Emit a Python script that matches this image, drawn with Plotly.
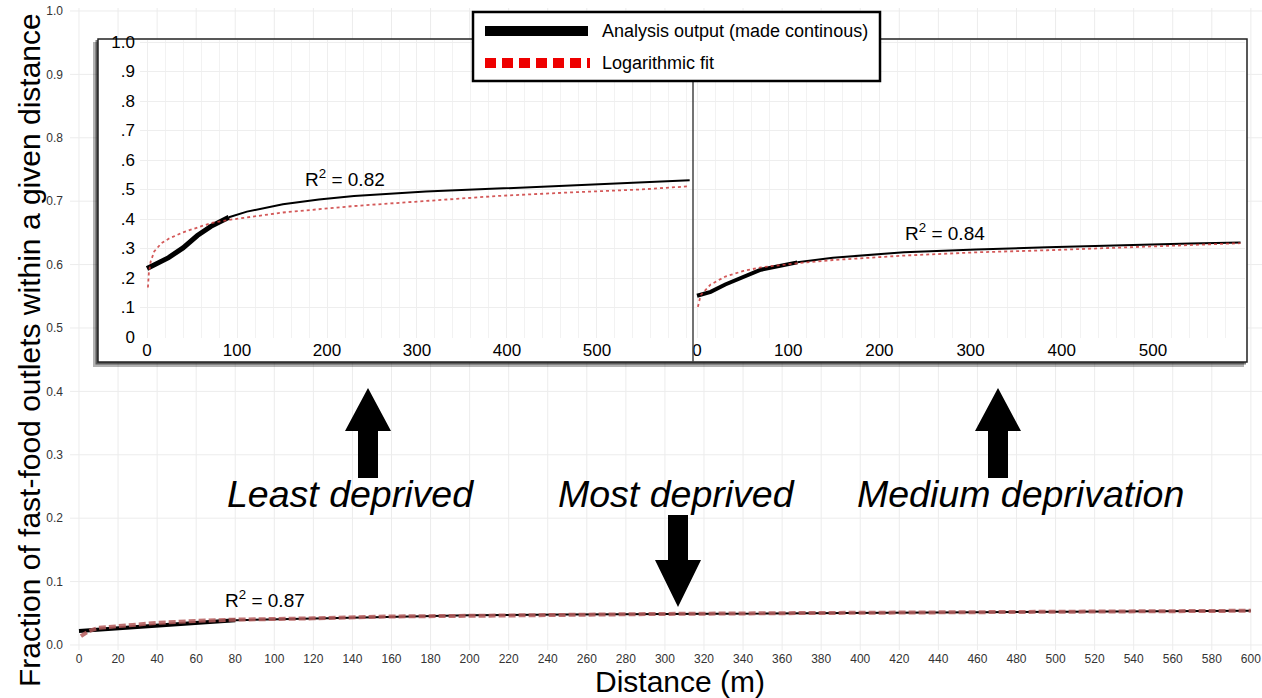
import plotly.graph_objects as go

# ---------------- data ----------------
# Least deprived (inset, left panel)
ld_black_x = [0, 8, 24, 40, 56, 71, 91, 111, 151, 191, 230, 310, 389, 469, 548, 603]
ld_black_y = [0.232, 0.243, 0.269, 0.302, 0.344, 0.375, 0.406, 0.425, 0.450, 0.466, 0.478, 0.493, 0.503, 0.513, 0.525, 0.531]
ld_fit_x = [1, 2, 4, 8, 16, 24, 40, 60, 71, 91, 111, 151, 230, 310, 389, 469, 548, 603]
ld_fit_y = [0.168, 0.215, 0.255, 0.290, 0.318, 0.333, 0.355, 0.375, 0.386, 0.397, 0.406, 0.422, 0.444, 0.462, 0.478, 0.490, 0.500, 0.511]

# Medium deprivation (inset, right panel)
md_black_x = [0, 15, 31, 51, 70, 110, 149, 227, 306, 384, 463, 541, 596]
md_black_y = [0.140, 0.153, 0.178, 0.205, 0.228, 0.253, 0.269, 0.287, 0.297, 0.304, 0.311, 0.317, 0.320]
md_fit_x = [1, 4, 15, 31, 51, 70, 110, 149, 227, 306, 384, 463, 541, 596]
md_fit_y = [0.102, 0.142, 0.178, 0.205, 0.224, 0.236, 0.250, 0.261, 0.276, 0.287, 0.294, 0.302, 0.311, 0.318]

# Most deprived (main chart)
mo_black_x = [0, 10, 20, 40, 60, 80, 120, 160, 200, 250, 300, 350, 400, 450, 500, 550, 600]
mo_black_y = [0.022, 0.024, 0.027, 0.031, 0.035, 0.039, 0.042, 0.045, 0.047, 0.048, 0.049, 0.050, 0.051, 0.052, 0.053, 0.053, 0.054]
mo_fit_x = [1, 5, 10, 20, 40, 60, 80, 120, 160, 200, 250, 300, 350, 400, 450, 500, 550, 600]
mo_fit_y = [0.014, 0.022, 0.027, 0.030, 0.035, 0.038, 0.040, 0.042, 0.045, 0.046, 0.048, 0.049, 0.050, 0.051, 0.052, 0.053, 0.053, 0.054]

main_x_ticks = list(range(0, 601, 20))
main_y_ticks = [i / 10 for i in range(11)]
inset_x_ticks = [0, 100, 200, 300, 400, 500]
inset_y_ticks = [i / 10 for i in range(11)]
inset_y_text = ["0", ".1", ".2", ".3", ".4", ".5", ".6", ".7", ".8", ".9", "1.0"]

legend_labels = ["Analysis output (made continous)", "Logarithmic fit"]
r2_labels = ["R<sup>2</sup> = 0.82", "R<sup>2</sup> = 0.84", "R<sup>2</sup> = 0.87"]
group_labels = ["Least deprived", "Most deprived", "Medium deprivation"]

# ---------------- layout geometry helpers ----------------
W, H = 1262, 698
L, T, PW, PH = 70, 8, 1192, 642


def px(x):
    return (x - L) / PW


def py(y):
    return (T + PH - y) / PH


FONT = "Liberation Sans, Arial, sans-serif"
BLACK = "#000000"
FIT = "rgba(205,60,60,0.85)"

fig = go.Figure()

# main chart: most deprived
fig.add_trace(go.Scatter(x=mo_black_x[:6], y=mo_black_y[:6], mode="lines",
                         line=dict(color=BLACK, width=4), hoverinfo="skip"))
fig.add_trace(go.Scatter(x=mo_black_x[5:], y=mo_black_y[5:], mode="lines",
                         line=dict(color=BLACK, width=2), hoverinfo="skip"))
fig.add_trace(go.Scatter(x=mo_fit_x, y=mo_fit_y, mode="lines",
                         line=dict(color="rgba(180,90,90,0.85)", width=4, dash="7px,3px"),
                         hoverinfo="skip"))

# inset left: least deprived
fig.add_trace(go.Scatter(x=ld_black_x[:7], y=ld_black_y[:7], mode="lines", xaxis="x2", yaxis="y2",
                         line=dict(color=BLACK, width=5), hoverinfo="skip"))
fig.add_trace(go.Scatter(x=ld_black_x[6:], y=ld_black_y[6:], mode="lines", xaxis="x2", yaxis="y2",
                         line=dict(color=BLACK, width=2), hoverinfo="skip"))
fig.add_trace(go.Scatter(x=ld_fit_x, y=ld_fit_y, mode="lines", xaxis="x2", yaxis="y2",
                         line=dict(color=FIT, width=1.8, dash="dot"), hoverinfo="skip"))

# inset right: medium deprivation
fig.add_trace(go.Scatter(x=md_black_x[:6], y=md_black_y[:6], mode="lines", xaxis="x3", yaxis="y3",
                         line=dict(color=BLACK, width=4), hoverinfo="skip"))
fig.add_trace(go.Scatter(x=md_black_x[5:], y=md_black_y[5:], mode="lines", xaxis="x3", yaxis="y3",
                         line=dict(color=BLACK, width=2), hoverinfo="skip"))
fig.add_trace(go.Scatter(x=md_fit_x, y=md_fit_y, mode="lines", xaxis="x3", yaxis="y3",
                         line=dict(color=FIT, width=1.8, dash="dot"), hoverinfo="skip"))

shapes = []
GRID = "#ececec"
# main grid as shapes (so the inset box can hide it)
for v in main_x_ticks:
    shapes.append(dict(type="line", xref="x", yref="paper", x0=v, x1=v, y0=0, y1=1,
                       line=dict(color=GRID, width=1), layer="below"))
for v in main_y_ticks:
    shapes.append(dict(type="line", xref="paper", yref="y", x0=0, x1=1, y0=v, y1=v,
                       line=dict(color=GRID, width=1), layer="below"))

# inset box with shadow
bx0, bx1, by0, by1 = 98, 1247, 39, 362
shapes.append(dict(type="rect", xref="paper", yref="paper", x0=px(bx0 - 5), x1=px(bx1 - 3), y0=py(by1 + 5), y1=py(by0 + 3),
                   fillcolor="rgba(0,0,0,0.3)", line=dict(width=0), layer="below"))
shapes.append(dict(type="rect", xref="paper", yref="paper", x0=px(bx0 - 2.5), x1=px(bx1 - 1), y0=py(by1 + 2.5), y1=py(by0 + 1),
                   fillcolor="rgba(0,0,0,0.5)", line=dict(width=0), layer="below"))
shapes.append(dict(type="rect", xref="paper", yref="paper", x0=px(bx0), x1=px(bx1), y0=py(by1), y1=py(by0),
                   fillcolor="white", line=dict(color="#222", width=1.5), layer="below"))
# panel divider
shapes.append(dict(type="line", xref="paper", yref="paper", x0=px(693), x1=px(693), y0=py(by1), y1=py(by0),
                   line=dict(color="#444", width=1.5), layer="above"))

# arrows


def arrow_up(cx, tip, base, bottom, hw=23, sw=10):
    return ("M {a},{b} L {c},{d} L {e},{d} L {e},{f} L {g},{f} L {g},{d} L {h},{d} Z".format(
        a=px(cx), b=py(tip), c=px(cx + hw), d=py(base), e=px(cx + sw), f=py(bottom),
        g=px(cx - sw), h=px(cx - hw)))


shapes.append(dict(type="path", xref="paper", yref="paper", path=arrow_up(368, 388, 431, 478),
                   fillcolor=BLACK, line=dict(width=0), layer="above"))
shapes.append(dict(type="path", xref="paper", yref="paper", path=arrow_up(998, 388, 431, 478),
                   fillcolor=BLACK, line=dict(width=0), layer="above"))
shapes.append(dict(type="path", xref="paper", yref="paper", path=arrow_up(678, 607, 560, 515),
                   fillcolor=BLACK, line=dict(width=0), layer="above"))

# legend box
shapes.append(dict(type="rect", xref="paper", yref="paper", x0=px(473), x1=px(880), y0=py(81), y1=py(12),
                   fillcolor="white", line=dict(color=BLACK, width=2.5), layer="above"))
shapes.append(dict(type="line", xref="paper", yref="paper", x0=px(485), x1=px(588), y0=py(31), y1=py(31),
                   line=dict(color=BLACK, width=10), layer="above"))
shapes.append(dict(type="line", xref="paper", yref="paper", x0=px(485), x1=px(590), y0=py(63), y1=py(63),
                   line=dict(color="#ee0000", width=10, dash="11px,6px"), layer="above"))

annotations = []
annotations.append(dict(xref="paper", yref="paper", x=px(600), y=py(31), xanchor="left", yanchor="middle",
                        text=legend_labels[0], showarrow=False, font=dict(family=FONT, size=18, color=BLACK)))
annotations.append(dict(xref="paper", yref="paper", x=px(600), y=py(63), xanchor="left", yanchor="middle",
                        text=legend_labels[1], showarrow=False, font=dict(family=FONT, size=18, color=BLACK)))

for txt, (cx, cy) in zip(r2_labels, [(345, 178), (945, 232), (265, 599)]):
    annotations.append(dict(xref="paper", yref="paper", x=px(cx), y=py(cy), xanchor="center", yanchor="middle",
                            text=txt, showarrow=False, font=dict(family=FONT, size=19, color=BLACK)))

for txt, cx in zip(group_labels, [350, 676, 1021]):
    annotations.append(dict(xref="paper", yref="paper", x=px(cx), y=py(494), xanchor="center", yanchor="middle",
                            text="<i>" + txt + "</i>", showarrow=False,
                            font=dict(family=FONT, size=37.5, color=BLACK)))

annotations.append(dict(xref="paper", yref="paper", x=px(30), y=py(350), xanchor="center", yanchor="middle",
                        text="Fraction of fast-food outlets within a given distance", textangle=-90,
                        showarrow=False, font=dict(family=FONT, size=30, color=BLACK)))
annotations.append(dict(xref="paper", yref="paper", x=px(680), y=py(681), xanchor="center", yanchor="middle",
                        text="Distance (m)", showarrow=False, font=dict(family=FONT, size=30, color=BLACK)))

TICKF = dict(family=FONT, size=12, color="#333")
INF = dict(family=FONT, size=17, color=BLACK)

fig.update_layout(
    width=W, height=H,
    margin=dict(l=L, r=W - L - PW, t=T, b=H - T - PH, pad=0),
    paper_bgcolor="white", plot_bgcolor="white",
    showlegend=False,
    shapes=shapes, annotations=annotations,
    xaxis=dict(range=[-4.6, 605.7], tickmode="array", tickvals=main_x_ticks, showgrid=False,
               zeroline=False, showline=False, ticks="", tickfont=TICKF),
    yaxis=dict(range=[-0.0079, 1.0047], tickmode="array", tickvals=main_y_ticks,
               ticktext=["%.1f" % v for v in main_y_ticks], showgrid=False, zeroline=False,
               showline=False, ticks="", tickfont=TICKF, ticklabelstandoff=6),
    xaxis2=dict(domain=[px(140), px(693)], anchor="y2", range=[-7.8, 606.7], tickmode="array",
                tickvals=inset_x_ticks, showgrid=True, gridcolor="#eeeeee", zeroline=False,
                showline=False, ticks="", tickfont=INF,
                minor=dict(tickmode="linear", tick0=0, dtick=20, showgrid=True, gridcolor="#f2f2f2")),
    yaxis2=dict(domain=[py(338), py(40)], anchor="x2", range=[-0.0034, 1.0068], tickmode="array",
                tickvals=inset_y_ticks, ticktext=inset_y_text, showgrid=True, gridcolor="#eeeeee",
                zeroline=False, showline=False, ticks="", tickfont=INF, ticklabelstandoff=4),
    xaxis3=dict(domain=[px(693), px(1245)], anchor="y3", range=[-4.4, 600.9], tickmode="array",
                tickvals=inset_x_ticks, showgrid=True, gridcolor="#eeeeee", zeroline=False,
                showline=False, ticks="", tickfont=INF,
                minor=dict(tickmode="linear", tick0=0, dtick=20, showgrid=True, gridcolor="#f2f2f2")),
    yaxis3=dict(domain=[py(338), py(40)], anchor="x3", range=[-0.0034, 1.0068], tickmode="array",
                tickvals=inset_y_ticks, showticklabels=False, showgrid=True, gridcolor="#eeeeee",
                zeroline=False, showline=False, ticks=""),
)

fig.write_html("out.html", config={"displayModeBar": False},
               post_script="document.body.style.margin='0';document.body.style.overflow='hidden';")
